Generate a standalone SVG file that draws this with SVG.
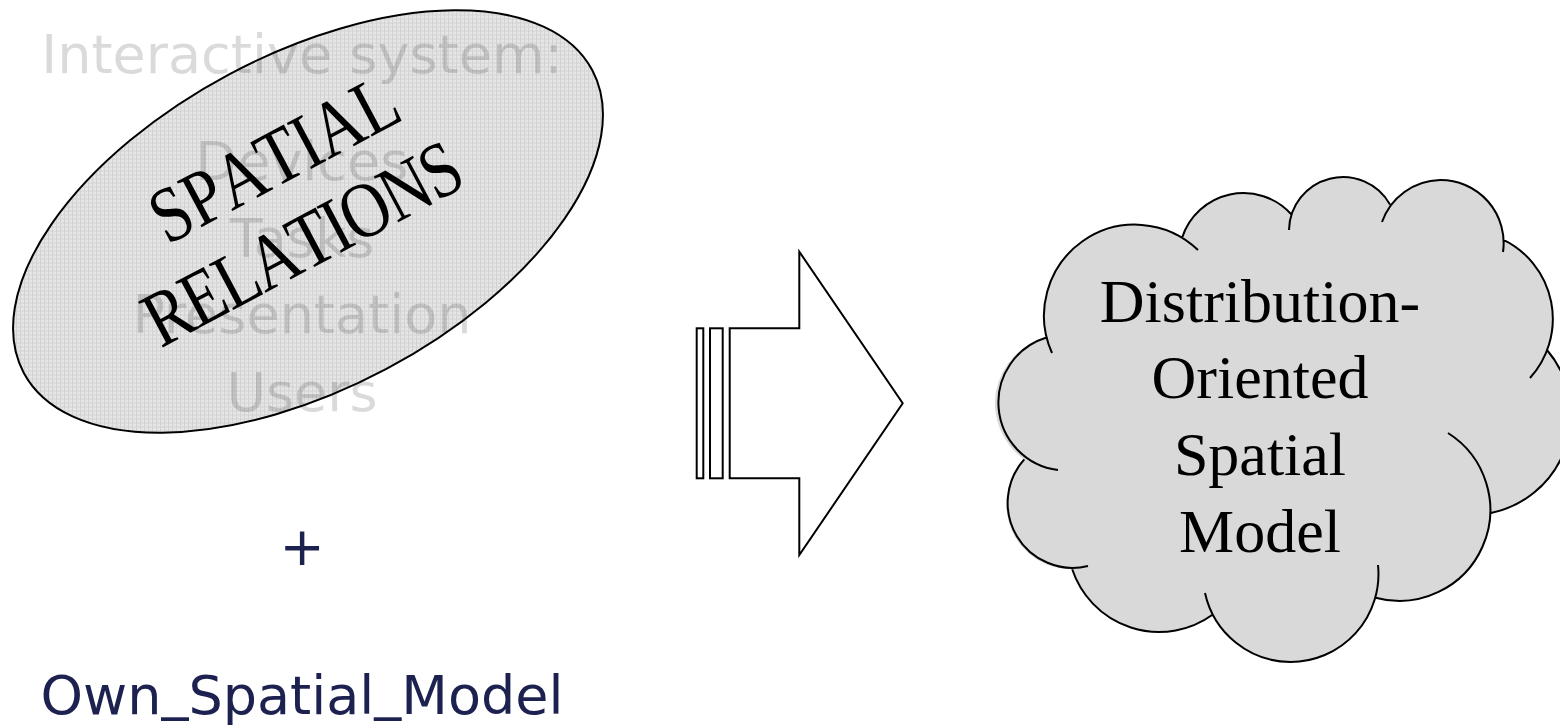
<svg xmlns="http://www.w3.org/2000/svg" width="1560" height="727" viewBox="0 0 1560 727">
  <style>
    .ghost { font-family: "DejaVu Sans", Verdana, sans-serif; font-size: 54px; fill: #000; fill-opacity: 0.145; text-anchor: middle; }
    .navy { font-family: "DejaVu Sans", Verdana, sans-serif; font-size: 54px; fill: #1d2150; text-anchor: middle; }
    .serif { font-family: "Liberation Serif", "Times New Roman", serif; fill: #000; text-anchor: middle; font-kerning: none; }
    .outline { fill: none; stroke: #000; stroke-width: 2; }
  </style>
  <defs>
    <!-- fine grid fill of the relations ellipse -->
    <pattern id="grid" width="4" height="4" patternUnits="userSpaceOnUse" patternTransform="rotate(28)">
      <rect width="4" height="4" fill="#e6e6e6"/>
      <path d="M0 0.5H4M0.5 0V4" stroke="#d2d2d2" stroke-width="1"/>
    </pattern>
  </defs>

  <rect width="1560" height="727" fill="#fff"/>

  <!-- left node: spatial relations ellipse over the interactive system list -->
  <g id="spatial-relations">
    <ellipse cx="308" cy="221.5" rx="322" ry="167" transform="rotate(-28 308 221.5)" fill="url(#grid)"/>
    <text class="ghost" x="302" y="73">Interactive system:</text>
    <text class="ghost" x="302" y="180">Devices</text>
    <text class="ghost" x="302" y="257">Tasks</text>
    <text class="ghost" x="302" y="333">Presentation</text>
    <text class="ghost" x="302" y="411">Users</text>
    <ellipse class="outline" cx="308" cy="221.5" rx="322" ry="167" transform="rotate(-28 308 221.5)"/>
    <g transform="translate(308 221.5) rotate(-28) scale(1 1.2)">
      <text class="serif" font-size="66" x="-0.5" y="-37.5" textLength="270" lengthAdjust="spacing">SPATIAL</text>
      <text class="serif" font-size="66" x="-15" y="35.8" textLength="349" lengthAdjust="spacing">RELATIONS</text>
    </g>
  </g>

  <g id="own-model">
    <text class="navy" x="302" y="565">+</text>
    <text class="navy" x="302" y="714">Own<tspan dy="-6">_</tspan><tspan dy="6">Spatial</tspan><tspan dy="-6">_</tspan><tspan dy="6">Model</tspan></text>
  </g>

  <!-- striped block arrow -->
  <g id="connectors" fill="#fff" stroke="#000" stroke-width="2">
    <rect x="696.7" y="328.3" width="6.6" height="150"/>
    <rect x="710" y="328.3" width="12.7" height="150"/>
    <path d="M729.7 328.3H799.3V251.7L902.7 403.3L799.3 555V478.3H729.7Z"/>
  </g>

  <!-- right node: cloud -->
  <g id="distribution-model">
    <path fill="#d9d9d9" d="M1046.5 337.5A91 91 0 0 1 1182 238A64.5 64.5 0 0 1 1291.5 214.5A54 54 0 0 1 1390 204.5A63 63 0 0 1 1503 239.6A88 88 0 0 1 1547 350A100 100 0 0 1 1491 513A91 91 0 0 1 1375.5 597.7A88 88 0 0 1 1212.5 614.7A91.5 91.5 0 0 1 1072.2 569.3A65 65 0 0 1 1024.3 459.4A68 68 0 0 1 1046.5 337.5Z"/>
    <path class="outline" d="M1052 353A91 91 0 0 1 1198 250
      M1182 238A64.5 64.5 0 0 1 1291.5 214.5
      M1289 230A54 54 0 0 1 1390 204.5
      M1382 222A63 63 0 0 1 1440 180A63 63 0 0 1 1503 252
      M1503 239.6A88 88 0 0 1 1530 378
      M1547 350A100 100 0 0 1 1491 513
      M1448 433A91 91 0 0 1 1375.5 597.7
      M1378 565A88 88 0 0 1 1290.6 662A88 88 0 0 1 1205 593
      M1212.5 614.7A91.5 91.5 0 0 1 1072.2 569.3
      M1088 566A65 65 0 0 1 1024.3 459.4
      M1058 470A68 68 0 0 1 1046.5 337.5"/>
    <text class="serif" font-size="62" x="1260" y="322">Distribution-</text>
    <text class="serif" font-size="62" x="1260" y="398">Oriented</text>
    <text class="serif" font-size="62" x="1260" y="475">Spatial</text>
    <text class="serif" font-size="62" x="1260" y="552">Model</text>
  </g>
</svg>
